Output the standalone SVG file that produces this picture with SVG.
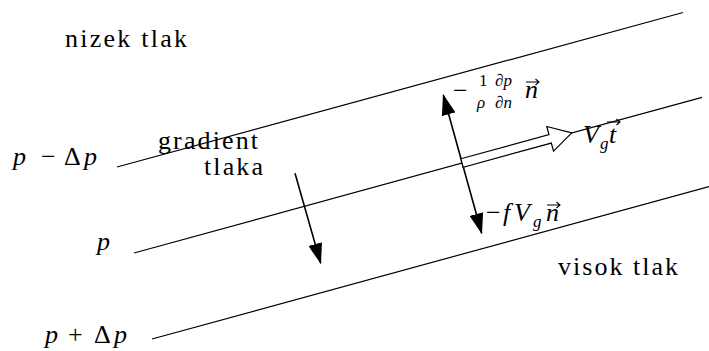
<svg xmlns="http://www.w3.org/2000/svg" width="709" height="351" viewBox="0 0 709 351">
<style>
.ln{stroke:#000;stroke-width:1.2;fill:none}
.ar{stroke:#000;stroke-width:1.6;fill:none}
text{font-family:'Liberation Serif','DejaVu Serif',serif;font-size:26px;fill:#000}
.i{font-style:italic}
.s{font-size:17px}
</style>
<defs>
<marker id="ah" markerUnits="userSpaceOnUse" markerWidth="22" markerHeight="14" refX="20" refY="7" orient="auto-start-reverse">
<path d="M0,0 L21,7 L0,14 Z" fill="#000"/>
</marker>
<path id="vecarrow" d="M0,0 H13 M9.5,-3 L13,0 L9.5,3" stroke="#000" stroke-width="1.1" fill="none"/>
</defs>
<g id="connectors">
<line id="isobar1" class="ln" x1="117" y1="167" x2="683" y2="12.5"/>
<line id="isobar2" class="ln" x1="134" y1="253" x2="702" y2="97.3"/>
<line id="isobar3" class="ln" x1="152" y1="339" x2="709" y2="186.6"/>
<line id="normal" class="ar" x1="443.3" y1="95" x2="481.7" y2="233.3" marker-start="url(#ah)" marker-end="url(#ah)"/>
<line id="gradient" class="ar" x1="295" y1="173.3" x2="320.7" y2="263.3" marker-end="url(#ah)"/>
<polygon id="velocity" points="0,-4.4 91.4,-4.4 91.4,-12.8 113.8,0 91.4,12.8 91.4,4.4 0,4.4" transform="translate(462,163) rotate(-15.34)" fill="#fff" stroke="#000" stroke-width="1.2" stroke-linejoin="miter"/>
</g>
<g id="label-low"><text x="65" y="47" textLength="122" lengthAdjust="spacing">nizek tlak</text></g>
<g id="label-high"><text x="558" y="275" textLength="120" lengthAdjust="spacing">visok tlak</text></g>
<g id="label-gradient">
<text x="158" y="149" textLength="100" lengthAdjust="spacing">gradient</text>
<text x="204" y="175" textLength="59" lengthAdjust="spacing">tlaka</text>
</g>
<g id="label-p1"><text y="165"><tspan class="i" x="13">p</tspan><tspan x="41">−</tspan><tspan x="64">Δ</tspan><tspan class="i" x="84">p</tspan></text></g>
<g id="label-p2"><text class="i" x="97" y="250">p</text></g>
<g id="label-p3"><text y="343"><tspan class="i" x="45">p</tspan><tspan x="68">+</tspan><tspan x="94">Δ</tspan><tspan class="i" x="114">p</tspan></text></g>
<g id="label-pressure-force">
<text x="453" y="99">−</text>
<text class="s" x="479" y="86">1</text>
<text class="s i" x="477" y="108">ρ</text>
<text class="s" x="495" y="86">∂<tspan class="i">p</tspan></text>
<text class="s" x="495" y="108">∂<tspan class="i">n</tspan></text>
<text class="i" x="525" y="98">n</text>
<use href="#vecarrow" x="526" y="82"/>
</g>
<g id="label-velocity">
<text class="i" x="583" y="143">V</text>
<text class="i s" x="600" y="149">g</text>
<text class="i" x="609" y="143">t</text>
<use href="#vecarrow" x="607" y="122"/>
</g>
<g id="label-coriolis">
<text x="486" y="221">−</text>
<text class="i" x="503" y="221">f</text>
<text class="i" x="514" y="221">V</text>
<text class="i s" x="533" y="227">g</text>
<text class="i" x="546" y="221">n</text>
<use href="#vecarrow" x="547" y="205"/>
</g>
</svg>
